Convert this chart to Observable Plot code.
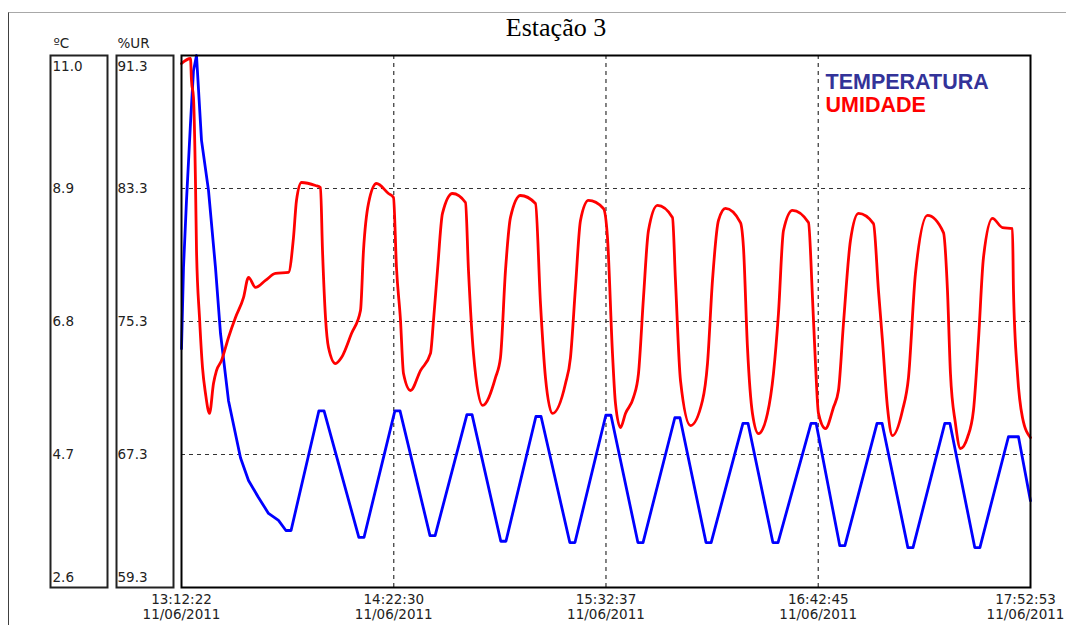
<!DOCTYPE html>
<html>
<head>
<meta charset="utf-8">
<script src="https://cdn.jsdelivr.net/npm/d3@7"></script>
<script src="https://cdn.jsdelivr.net/npm/@observablehq/plot@0.6"></script>
<style>
  body { margin: 0; background: #fff; }
  #wrap { position: relative; width: 1066px; height: 625px; overflow: hidden; }
  #outer { position: absolute; left: 8px; top: 12px; width: 1100px; height: 700px;
           border-top: 1px solid #a8a8a8; border-left: 1px solid #404040; pointer-events: none; }
  #chart { position: absolute; left: 0; top: 0; }
</style>
</head>
<body>
<div id="wrap"><div id="outer"></div><div id="chart"></div></div>
<script>
// ---------- data ----------
const title = "Estação 3";
const startTime = "13:12:22";
const dateLabel = "11/06/2011";
const xTickTimes = ["13:12:22", "14:22:30", "15:32:37", "16:42:45", "17:52:53"];
const tempTicks = [11.0, 8.9, 6.8, 4.7, 2.6];
const rhTicks = [91.3, 83.3, 75.3, 67.3, 59.3];
const legendNames = ["TEMPERATURA", "UMIDADE"];

// Temperature (°C), minutes after start
const tempMinutes = [0.00, 0.66, 1.65, 2.97, 3.96, 4.96, 6.61, 8.92, 11.23, 12.89, 15.53, 19.49, 22.14, 25.44, 28.75, 32.05,
  34.5, 36.2, 45.4, 47.1, 58.6, 60.3, 70.5, 72.2, 82.1, 83.8, 94.3, 96.0, 105.5, 107.2, 117.1, 118.8,
  128.3, 130.0, 140.2, 141.9, 150.8, 152.5, 163.0, 164.7, 173.3, 175.0, 185.5, 187.2, 195.4, 197.1,
  208.0, 209.7, 217.5, 219.2, 229.8, 231.5, 240.0, 241.7, 252.2, 253.9, 262.1, 263.8, 273.23, 276.54, 280.5];
const tempValues = [6.37, 7.65, 8.71, 9.93, 10.76, 11.00, 9.66, 8.87, 7.65, 6.61, 5.55, 4.65, 4.29, 4.02, 3.77, 3.66,
  3.50, 3.50, 5.39, 5.39, 3.39, 3.39, 5.39, 5.39, 3.42, 3.42, 5.33, 5.33, 3.33, 3.33, 5.30, 5.30,
  3.31, 3.31, 5.32, 5.32, 3.31, 3.31, 5.28, 5.28, 3.31, 3.31, 5.19, 5.19, 3.31, 3.31,
  5.19, 5.19, 3.26, 3.26, 5.19, 5.19, 3.23, 3.23, 5.19, 5.19, 3.23, 3.23, 4.98, 4.98, 3.97];

// Relative humidity (%UR), minutes after start
const rhMinutes = [0, 2.97, 3.30, 3.96, 4.63, 4.96, 5.95, 6.94, 7.93, 9.25, 10.57, 11.56, 13.22, 15.53, 17.84, 20.48, 22.14,
  24.45, 27.75, 31.06, 35.35, 37.00, 37.99, 39.65, 44.27, 45.92, 46.59, 47.58, 48.57, 50.88, 52.86, 56.17, 59.14,
  60.13, 61.78, 64.43, 68.39, 70.04, 71.03, 72.36, 73.35, 75.66, 78.96, 82.27, 83.26, 84.58, 86.23, 89.54, 93.83,
  94.82, 96.47, 99.45, 103.74, 105.39, 107.05, 108.70, 112.00, 116.96, 118.61, 120.26, 122.58, 126.87, 128.52,
  130.17, 131.83, 134.47, 139.42, 140.75, 142.40, 143.39, 145.04, 146.69, 149.34, 150.99, 152.64, 154.29, 157.27,
  162.22, 163.21, 164.87, 168.17, 172.14, 173.79, 175.44, 177.42, 179.73, 184.69, 185.68, 187.00, 188.65, 190.64,
  193.61, 195.59, 197.24, 198.90, 201.87, 207.16, 208.48, 209.47, 210.46, 212.77, 215.41, 217.07, 218.72, 221.03,
  223.68, 228.63, 230.28, 231.60, 233.26, 234.91, 238.21, 240.20, 242.51, 246.48, 251.76, 253.08, 254.07, 255.72,
  257.37, 259.69, 261.67, 263.32, 264.98, 267.95, 271.25, 274.56, 274.89, 276.21, 277.86, 280.5];
const rhValues = [90.82, 91.12, 89.80, 88.77, 83.60, 79.57, 75.54, 72.53, 70.97, 69.77, 71.57, 72.35, 72.95, 74.34, 75.54, 76.74, 77.95,
  77.35, 77.77, 78.19, 78.25, 80.35, 82.58, 83.66, 83.48, 83.36, 79.57, 75.54, 73.74, 72.77, 73.13, 74.58, 75.96,
  79.57, 82.40, 83.60, 83.00, 82.76, 78.55, 75.36, 72.17, 71.15, 72.35, 73.38, 75.36, 78.37, 81.80, 83.00, 82.46,
  78.37, 73.38, 70.25, 71.93, 73.13, 78.37, 81.56, 82.88, 82.40, 76.38, 71.93, 69.77, 71.57, 73.13,
  77.35, 81.38, 82.58, 82.10, 80.35, 73.38, 70.37, 68.92, 69.77, 70.73, 72.17, 76.74, 80.77, 82.28,
  81.56, 77.77, 71.75, 69.04, 70.55, 72.77, 77.77, 81.38, 82.10, 81.25, 79.75, 73.74, 69.77, 68.56,
  69.77, 72.17, 75.78, 80.77, 81.98, 81.25, 76.74, 72.77, 69.77, 68.86, 70.13, 71.15, 75.18, 80.17,
  81.80, 81.19, 77.17, 74.16, 70.13, 68.44, 69.95, 71.93, 78.19, 81.68, 80.65, 77.17, 72.17, 69.16,
  67.66, 68.32, 69.95, 74.16, 79.15, 81.50, 80.95, 80.89, 77.17, 72.17, 69.53, 68.32];

// ---------- helpers ----------
function parseClock(s) {
  const [h, m, sec] = s.split(":").map(Number);
  return new Date(2011, 5, 11, h, m, sec);
}
const t0 = parseClock(startTime);
const toDate = (min) => new Date(t0.getTime() + min * 60000);
const xTicks = xTickTimes.map(parseClock);

const tMin = tempTicks[tempTicks.length - 1], tMax = tempTicks[0];
const rMin = rhTicks[rhTicks.length - 1], rMax = rhTicks[0];
const rhToT = (v) => tMin + (v - rMin) * (tMax - tMin) / (rMax - rMin);

const temp = tempMinutes.map((m, i) => ({date: toDate(m), value: tempValues[i]}));
const rh = rhMinutes.map((m, i) => ({date: toDate(m), value: rhValues[i]}));

const tickFont = "'DejaVu Sans', Verdana, sans-serif";
const tickSize = 13.5;
const W = 1066, H = 625;
const ML = 181, MR = 36, MT = 55, MB = 38;

const interiorT = tempTicks.slice(1, -1);
const interiorX = xTicks.slice(1, -1);

function tickLabelMarks(ticks, mapY, dx) {
  const n = ticks.length;
  return ticks.map((v, i) => Plot.text([v], {
    y: (d) => mapY(d),
    text: (d) => d.toFixed(1),
    frameAnchor: "left",
    textAnchor: "start",
    lineAnchor: "middle",
    dx,
    dy: i === 0 ? 11 : i === n - 1 ? -10 : 0,
    fontFamily: tickFont,
    fontSize: tickSize,
    fill: "#222"
  }));
}

const xLabelOpts = {
  frameAnchor: "bottom",
  lineAnchor: "top",
  dy: 5,
  lineHeight: 1.15,
  fontFamily: tickFont,
  fontSize: tickSize,
  fill: "#222"
};

const chart = Plot.plot({
  width: W,
  height: H,
  marginLeft: ML,
  marginRight: MR,
  marginTop: MT,
  marginBottom: MB,
  x: {type: "time", domain: [xTicks[0], xTicks[xTicks.length - 1]], axis: null},
  y: {domain: [tMin, tMax], axis: null},
  marks: [
    // gridlines
    Plot.ruleY(interiorT, {stroke: "#333", strokeDasharray: "4,4", strokeWidth: 1.2}),
    Plot.ruleX(interiorX, {stroke: "#333", strokeDasharray: "4,4", strokeWidth: 1.2}),
    // series
    Plot.line(temp, {x: "date", y: "value", stroke: "#0000ff", strokeWidth: 2.8}),
    Plot.line(rh, {x: "date", y: (d) => rhToT(d.value), stroke: "#ff0000", strokeWidth: 2.8, curve: "monotone-x"}),
    // plot frame
    Plot.frame({stroke: "#000", strokeWidth: 2}),
    // axis boxes
    Plot.frame({stroke: "#222", strokeWidth: 2, insetLeft: -131, insetRight: 923}),
    Plot.frame({stroke: "#222", strokeWidth: 2, insetLeft: -65, insetRight: 857}),
    // axis tick labels inside boxes
    ...tickLabelMarks(tempTicks, (v) => v, -129),
    ...tickLabelMarks(rhTicks, rhToT, -64),
    // units
    Plot.text(["ºC"], {frameAnchor: "top-left", textAnchor: "start", lineAnchor: "middle", dx: -128, dy: -12, fontFamily: tickFont, fontSize: tickSize, fill: "#222"}),
    Plot.text(["%UR"], {frameAnchor: "top-left", textAnchor: "start", lineAnchor: "middle", dx: -64, dy: -12, fontFamily: tickFont, fontSize: tickSize, fill: "#222"}),
    // x tick labels
    Plot.text(xTicks.slice(0, -1), {
      x: (d) => d,
      text: (d, i) => xTickTimes[i] + "\n" + dateLabel,
      ...xLabelOpts
    }),
    Plot.text(xTicks.slice(-1), {
      x: (d) => d,
      text: () => xTickTimes[xTickTimes.length - 1] + "\n" + dateLabel,
      dx: -5,
      ...xLabelOpts
    }),
    // title
    Plot.text([title], {frameAnchor: "top", lineAnchor: "middle", dx: -50, dy: -28, fontFamily: "'Liberation Serif', 'Times New Roman', serif", fontSize: 26, fill: "#000"}),
    // legend
    Plot.text([legendNames[0]], {frameAnchor: "top-left", textAnchor: "start", lineAnchor: "middle", dx: 644, dy: 27, fontFamily: "'Liberation Sans', Arial, sans-serif", fontWeight: "bold", fontSize: 21.5, fill: "#333399"}),
    Plot.text([legendNames[1]], {frameAnchor: "top-left", textAnchor: "start", lineAnchor: "middle", dx: 644, dy: 50, fontFamily: "'Liberation Sans', Arial, sans-serif", fontWeight: "bold", fontSize: 21.5, fill: "#ff0000"})
  ]
});
document.getElementById("chart").appendChild(chart);
</script>
</body>
</html>
